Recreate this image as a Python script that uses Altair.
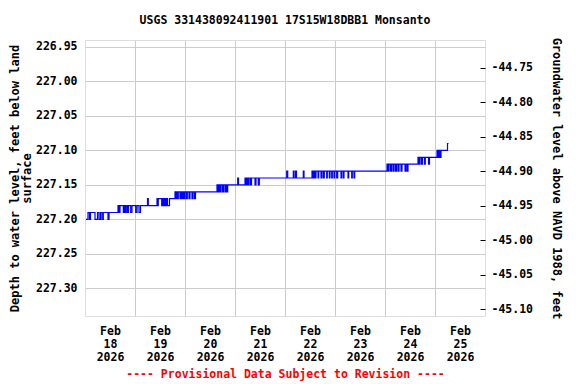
import altair as alt
import pandas as pd

FONT = "DejaVu Sans Mono"

# Breakpoints: days after 2026-02-18 00:00, depth below land surface (ft)
days = [0.02, 0.06, 0.09, 0.11, 0.20, 0.25, 0.28, 0.31, 0.34, 0.366, 0.46, 0.48,
        0.66, 0.68, 0.70, 0.766, 0.79, 0.81, 0.82, 0.846, 0.87, 0.914, 0.94, 1.014,
        1.04, 1.08, 1.11, 1.25, 1.266,
        1.44, 1.45, 1.466, 1.534, 1.55, 1.57, 1.59, 1.61, 1.63, 1.65, 1.69,
        1.80, 1.814, 1.83, 1.85, 1.866, 1.90, 1.92, 1.94, 1.96, 1.98, 2.00, 2.03,
        2.046, 2.08, 2.10, 2.14, 2.16, 2.19, 2.21,
        2.64, 2.66, 2.68, 2.70, 2.72, 2.75, 2.77, 2.80, 2.82, 2.84, 2.854,
        3.054, 3.07,
        3.20, 3.22, 3.24, 3.26, 3.28, 3.31, 3.33, 3.40, 3.42, 3.466, 3.486,
        4.034, 4.054, 4.166, 4.18, 4.21, 4.23, 4.366, 4.38,
        4.54, 4.56, 4.58, 4.60, 4.62, 4.66, 4.674, 4.72, 4.74, 4.77, 4.786, 4.834,
        4.846, 4.886, 4.90, 4.934, 4.946, 4.98, 4.994, 5.034, 5.054, 5.12, 5.134,
        5.166, 5.18, 5.26, 5.274, 5.334, 5.346, 5.38, 5.394,
        6.04, 6.06, 6.08, 6.11, 6.13, 6.16, 6.18, 6.21, 6.23, 6.26, 6.28, 6.32,
        6.34, 6.40, 6.42, 6.446, 6.46,
        6.66, 6.68, 6.70, 6.73, 6.75, 6.79, 6.806, 6.87, 6.89,
        7.04, 7.06, 7.08, 7.10, 7.12, 7.25, 7.27]

depth = [227.20, 227.19, 227.20, 227.19, 227.20, 227.19, 227.20, 227.19, 227.20, 227.19, 227.20, 227.19,
         227.18, 227.19, 227.18, 227.19, 227.18, 227.19, 227.18, 227.19, 227.18, 227.19, 227.18, 227.19,
         227.18, 227.19, 227.18, 227.17, 227.18,
         227.17, 227.18, 227.17, 227.18, 227.17, 227.18, 227.17, 227.18, 227.17, 227.18, 227.17,
         227.16, 227.17, 227.16, 227.17, 227.16, 227.17, 227.16, 227.17, 227.16, 227.17, 227.16, 227.17,
         227.16, 227.17, 227.16, 227.17, 227.16, 227.17, 227.16,
         227.15, 227.16, 227.15, 227.16, 227.15, 227.16, 227.15, 227.16, 227.15, 227.16, 227.15,
         227.14, 227.15,
         227.14, 227.15, 227.14, 227.15, 227.14, 227.15, 227.14, 227.15, 227.14, 227.15, 227.14,
         227.13, 227.14, 227.13, 227.14, 227.13, 227.14, 227.13, 227.14,
         227.13, 227.14, 227.13, 227.14, 227.13, 227.14, 227.13, 227.14, 227.13, 227.14, 227.13, 227.14,
         227.13, 227.14, 227.13, 227.14, 227.13, 227.14, 227.13, 227.14, 227.13, 227.14, 227.13,
         227.14, 227.13, 227.14, 227.13, 227.14, 227.13, 227.14, 227.13,
         227.12, 227.13, 227.12, 227.13, 227.12, 227.13, 227.12, 227.13, 227.12, 227.13, 227.12, 227.13,
         227.12, 227.13, 227.12, 227.13, 227.12,
         227.11, 227.12, 227.11, 227.12, 227.11, 227.12, 227.11, 227.12, 227.11,
         227.10, 227.11, 227.10, 227.11, 227.10, 227.09, 227.09]

depth_ticks = [226.95, 227.00, 227.05, 227.10, 227.15, 227.20, 227.25, 227.30]
elev_ticks = [-44.75, -44.80, -44.85, -44.90, -44.95, -45.00, -45.05, -45.10]
DATUM = 182.23  # land surface elevation offset, NAVD 1988

start = pd.Timestamp("2026-02-18 00:00:00")
df = pd.DataFrame({"time": [start + pd.Timedelta(days=d) for d in days], "depth": depth})

label_days = [18, 19, 20, 21, 22, 23, 24, 25]
axis_vals = []
for d in label_days:
    axis_vals.append(alt.DateTime(year=2026, month=2, date=d, hours=12))
    if d > 18:
        axis_vals.append(alt.DateTime(year=2026, month=2, date=d, hours=0))

xscale = alt.Scale(domain=[alt.DateTime(year=2026, month=2, date=18, hours=0),
                           alt.DateTime(year=2026, month=2, date=26, hours=0)])

x_axis = alt.Axis(
    values=axis_vals,
    labelExpr="hours(datum.value) == 12 ? [timeFormat(datum.value, '%b'), timeFormat(datum.value, '%d'), timeFormat(datum.value, '%Y')] : ''",
    gridOpacity={"condition": {"test": "hours(datum.value) == 0", "value": 1}, "value": 0},
    gridColor="#cccccc",
    ticks=False,
    domain=False,
    labelFont=FONT, labelFontSize=11.5, labelFontWeight="bold", labelColor="black",
    labelLineHeight=13, labelPadding=9, labelAngle=0, labelOverlap=False,
    title="---- Provisional Data Subject to Revision ----",
    titleColor="red", titleFont=FONT, titleFontSize=11.5, titleFontWeight="bold",
    titlePadding=6,
)

left = alt.Chart(df).mark_line(color="#0000ff", strokeWidth=1.2, interpolate="step-after").encode(
    x=alt.X("time:T", scale=xscale, axis=x_axis),
    y=alt.Y("depth:Q",
            scale=alt.Scale(domain=[226.94, 227.34], reverse=True, nice=False, zero=False),
            axis=alt.Axis(values=depth_ticks, format=".2f", gridColor="#cccccc", ticks=False, domain=False,
                          labelFont=FONT, labelFontSize=11.5, labelFontWeight="bold", labelColor="black",
                          labelPadding=8,
                          title=["Depth to water level, feet below land", "surface"],
                          titleFont=FONT, titleFontSize=12, titleFontWeight="bold", titleColor="black",
                          titleLineHeight=12, titlePadding=2)),
)

right = alt.Chart(df).transform_calculate(elev=f"{DATUM} - datum.depth").mark_line(
    opacity=0, interpolate="step-after").encode(
    x=alt.X("time:T", scale=xscale, axis=x_axis),
    y=alt.Y("elev:Q",
            scale=alt.Scale(domain=[-45.11, -44.71], nice=False, zero=False),
            axis=alt.Axis(orient="right", values=elev_ticks, format=".2f",
                          labelExpr="replace(datum.label, '\u2212', '-')",
                          grid=False, ticks=True, tickSize=5, tickColor="black", tickWidth=1,
                          offset=-5, domain=False,
                          labelFont=FONT, labelFontSize=11.5, labelFontWeight="bold", labelColor="black",
                          labelPadding=6,
                          title="Groundwater level above NAVD 1988, feet",
                          titleFont=FONT, titleFontSize=12, titleFontWeight="bold", titleColor="black",
                          titlePadding=17)),
)

chart = alt.layer(left, right).resolve_scale(y="independent").properties(
    width=400, height=276,
    title=alt.TitleParams("USGS 331438092411901 17S15W18DBB1 Monsanto", font=FONT, fontSize=11.5,
                          fontWeight="bold", color="black", anchor="middle", offset=11),
    autosize=alt.AutoSizeParams(type="none"),
    padding={"left": 77, "top": 32, "right": 83, "bottom": 68},
).configure_view(stroke="black", strokeWidth=1).configure(background="white")

chart.save("out.html", embed_options={"renderer": "svg", "actions": False})
